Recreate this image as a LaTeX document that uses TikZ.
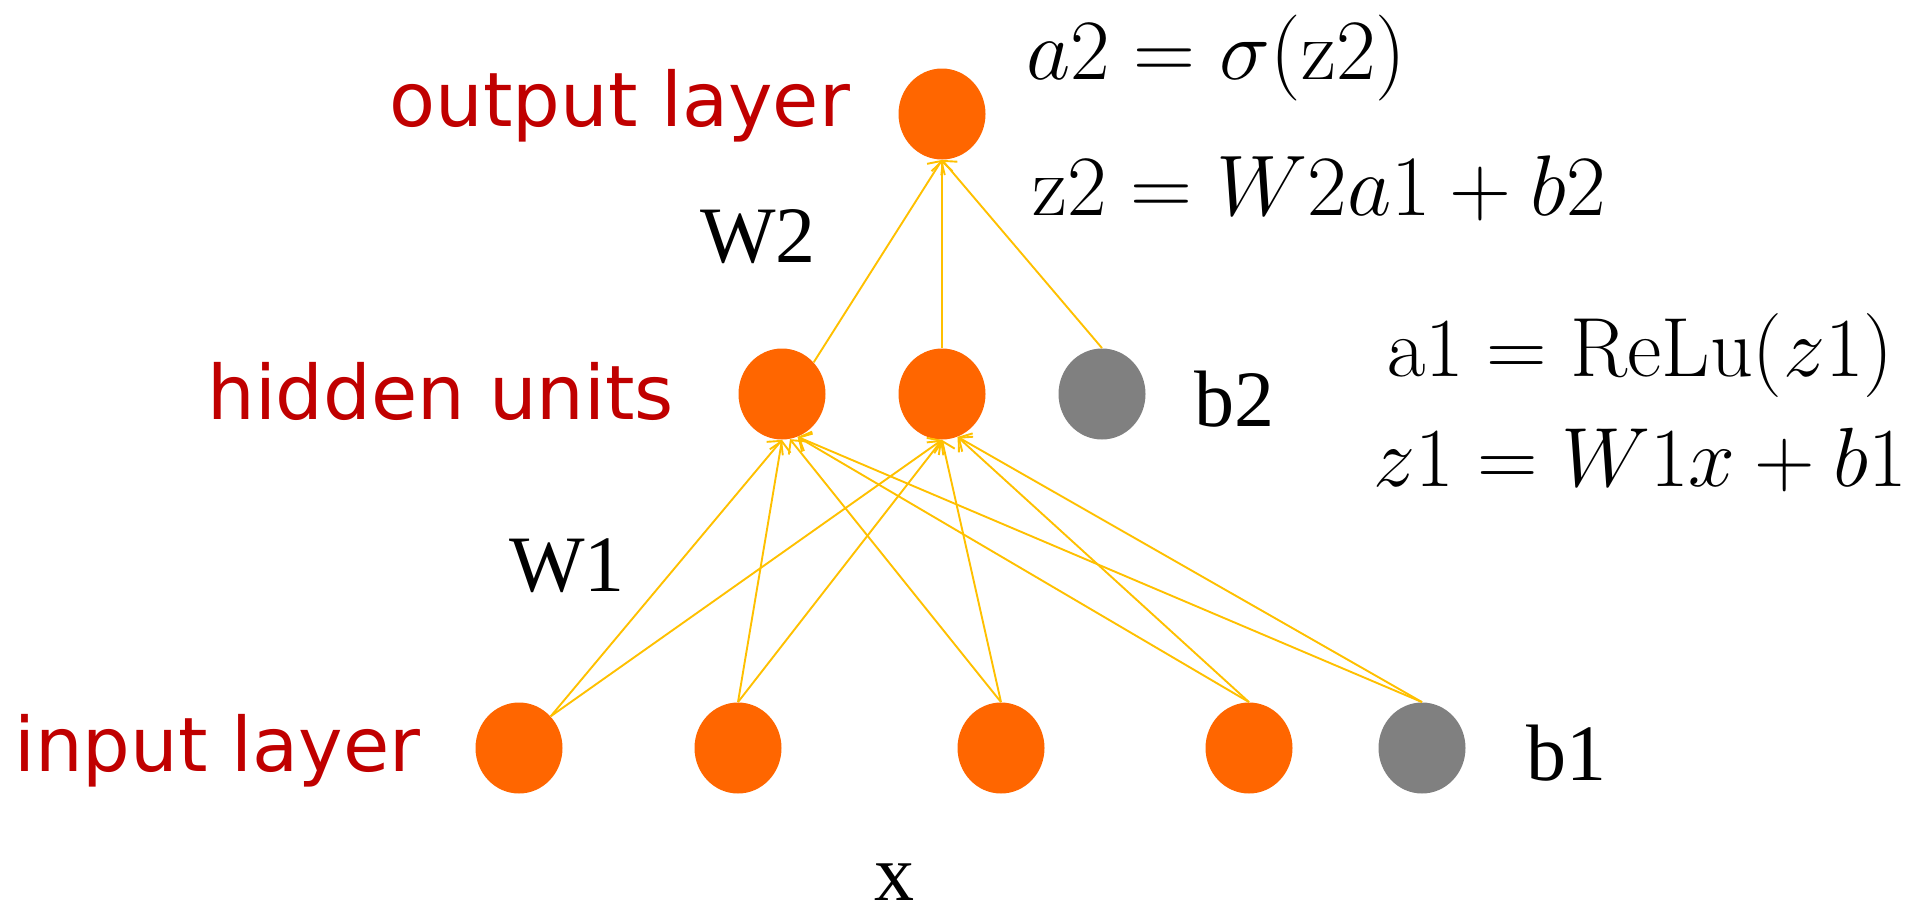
\RequirePackage{fix-cm}
\documentclass[tikz,border=0pt]{standalone}
\usepackage[no-math]{fontspec}
\setmainfont{Liberation Serif}
\newfontfamily\layerfont{DejaVu Sans}
\usetikzlibrary{arrows.meta, positioning, shapes.geometric}
\definecolor{unitorange}{HTML}{FF6600}
\definecolor{biasgray}{HTML}{808080}
\definecolor{layerred}{HTML}{C00000}
\definecolor{wireyellow}{HTML}{FFC000}

\begin{document}
\begin{tikzpicture}[
    x=0.5pt, y=-0.5pt,
    unit/.style={ellipse, fill=unitorange, inner sep=0pt,
                 minimum width=43.5pt, minimum height=45.5pt},
    bias/.style={unit, fill=biasgray},
    layer/.style={inner sep=0pt, anchor=base west, text=layerred,
                  font=\layerfont\fontsize{37.6}{44}\selectfont},
    sym/.style={inner sep=0pt, anchor=base west,
                font=\fontsize{40}{46}\selectfont},
    eqn/.style={inner sep=0pt, font=\fontsize{43}{50}\selectfont},
    eqnr/.style={inner sep=0pt, anchor=base, font=\fontsize{42}{50}\selectfont},
    wire/.style={-{Straight Barb[length=5pt, width=10.5pt]}, line width=0.95pt,
                 draw=wireyellow}
]
    \useasboundingbox (0,0) rectangle (1916,921);

    % units
    \node[unit] (out) at (942,114) {};
    \node[unit] (h1) at (782,394) {};
    \node[unit] (h2) at (942,394) {};
    \node[bias] (b2) at (1102,394) {};
    \node[unit] (in1) at (519,748) {};
    \node[unit] (in2) at (738,748) {};
    \node[unit] (in3) at (1001,748) {};
    \node[unit] (in4) at (1249,748) {};
    \node[bias] (b1) at (1422,748) {};

    % layer names
    \node[layer] (lout) at (389,126) {output layer};
    \node[layer] (lhid) at (207,419) {hidden units};
    \node[layer] (lin) at (14,771) {input layer};

    % weights, biases, input
    \node[sym] (w2) at (700,262) {W2};
    \node[sym] (w1) at (509,591) {W1};
    \node[sym] (tb2) at (1194,426) {b2};
    \node[sym] (tb1) at (1526,780) {b1};
    \node[sym, anchor=base] (tx) at (894,900) {x};

    % equations
    \node[eqn, anchor=base west] (eqa2) at (1026,79) {$a2 = \sigma(\mathrm{z}2)$};
    \node[eqn, anchor=base west] (eqz2) at (1032,215) {$\mathrm{z}2 = W2a1 + b2$};
    \node[eqnr] (eqa1) at (1640,376) {$\mathrm{a}1 = \mathrm{ReLu}(z1)$};
    \node[eqnr] (eqz1) at (1640,486) {$z1 = W1x + b1$};

    % input -> hidden
    \draw[wire] (in1.45) -- (h1.south);
    \draw[wire] (in1.45) -- (h2.south);
    \draw[wire] (in2.north) -- (h1.south);
    \draw[wire] (in2.north) -- (h2.south);
    \draw[wire] (in3.north) -- (h1.-80);
    \draw[wire] (in3.north) -- (h2.south);
    \draw[wire] (in4.north) -- (h1.-70);
    \draw[wire] (in4.north) -- (h2.-70);
    \draw[wire] (b1.north) -- (h1.-70);
    \draw[wire] (b1.north) -- (h2.-70);

    % hidden -> output
    \draw[wire] (h1.45) -- (out.south);
    \draw[wire] (h2.north) -- (out.south);
    \draw[wire] (b2.north) -- (out.south);
\end{tikzpicture}
\end{document}
